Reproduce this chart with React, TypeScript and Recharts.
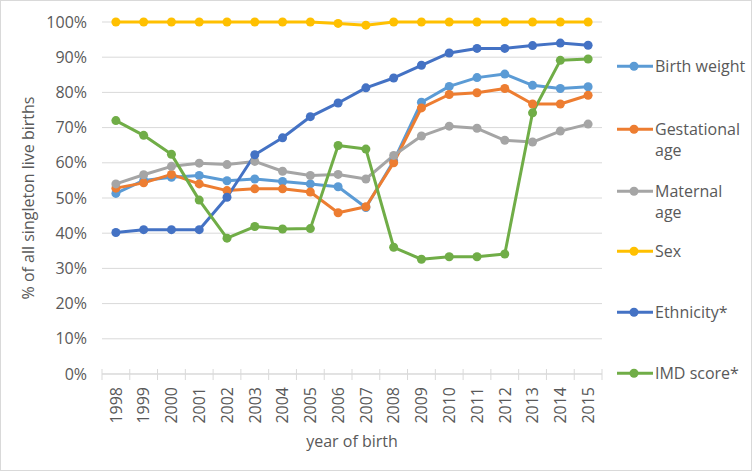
import * as React from 'react'
import { LineChart, Line, XAxis, YAxis, CartesianGrid, Legend } from 'recharts'

const years = ['1998', '1999', '2000', '2001', '2002', '2003', '2004', '2005', '2006', '2007', '2008', '2009', '2010', '2011', '2012', '2013', '2014', '2015']
const birthWeight = [51.3, 55.0, 55.9, 56.4, 54.9, 55.4, 54.7, 54.0, 53.2, 47.3, 60.5, 77.2, 81.7, 84.2, 85.2, 82.0, 81.1, 81.6]
const gestationalAge = [52.8, 54.3, 56.7, 54.0, 52.1, 52.6, 52.6, 51.7, 45.8, 47.5, 60.0, 75.6, 79.4, 79.9, 81.1, 76.7, 76.7, 79.2]
const maternalAge = [54.0, 56.6, 59.0, 59.9, 59.5, 60.4, 57.6, 56.4, 56.7, 55.4, 62.1, 67.6, 70.4, 69.8, 66.4, 65.9, 69.0, 71.0]
const sex = [100, 100, 100, 100, 100, 100, 100, 100, 99.6, 99.1, 100, 100, 100, 100, 100, 100, 100, 100]
const ethnicity = [40.2, 41.0, 41.0, 41.0, 50.2, 62.3, 67.1, 73.1, 77.0, 81.3, 84.1, 87.7, 91.2, 92.5, 92.5, 93.3, 94.0, 93.4]
const imdScore = [72.0, 67.8, 62.4, 49.4, 38.6, 41.9, 41.2, 41.3, 64.9, 63.9, 36.0, 32.6, 33.3, 33.3, 34.1, 74.2, 89.1, 89.5]
const yTicks = [0, 10, 20, 30, 40, 50, 60, 70, 80, 90, 100]

const series = [
  { key: 'birthWeight', name: 'Birth weight', color: '#5B9BD5', values: birthWeight },
  { key: 'gestationalAge', name: 'Gestational age', color: '#ED7D31', values: gestationalAge },
  { key: 'maternalAge', name: 'Maternal age', color: '#A5A5A5', values: maternalAge },
  { key: 'sex', name: 'Sex', color: '#FFC000', values: sex },
  { key: 'ethnicity', name: 'Ethnicity*', color: '#4472C4', values: ethnicity },
  { key: 'imdScore', name: 'IMD score*', color: '#70AD47', values: imdScore },
]

const data = years.map((year, i) => {
  const row: Record<string, string | number> = { year }
  series.forEach((s) => { row[s.key] = s.values[i] })
  return row
})

const FONT = '"Open Sans", sans-serif'
const TEXT = '#595959'
const GRID = '#d9d9d9'
const W = 753
const H = 472
const PLOT_LEFT = 102
const PLOT_RIGHT = 602
const BAND = (PLOT_RIGHT - PLOT_LEFT) / years.length

// legend row centres (first text line), Excel spaces them unevenly
const legendCentres = [66, 129.5, 191.5, 251.5, 312.5, 373.5]

const XTick = (props: any) => {
  const { x, y, payload, index } = props
  const axisY = y - 8
  return (
    <g>
      <line x1={x - BAND / 2} x2={x - BAND / 2} y1={axisY - 5} y2={axisY + 6} stroke={GRID} />
      {index === years.length - 1 && (
        <line x1={x + BAND / 2} x2={x + BAND / 2} y1={axisY - 5} y2={axisY + 6} stroke={GRID} />
      )}
      <text
        x={x}
        y={axisY + 13}
        transform={`rotate(-90, ${x}, ${axisY + 13})`}
        textAnchor="end"
        dy="0.36em"
        fill={TEXT}
        fontSize={16}
        fontFamily={FONT}
      >
        {payload.value}
      </text>
    </g>
  )
}

const renderLegend = () => (
  <div style={{ position: 'relative', width: 153, height: H }}>
    {series.map((s, i) => (
      <div
        key={s.key}
        style={{ position: 'absolute', left: 17, top: legendCentres[i] - 10.25, display: 'flex', alignItems: 'flex-start' }}
      >
        <svg width={38} height={20.5} style={{ flex: 'none' }}>
          <line x1={0} x2={36} y1={10.25} y2={10.25} stroke={s.color} strokeWidth={3} />
          <circle cx={17} cy={10.25} r={4.5} fill={s.color} />
        </svg>
        <span style={{ width: 96, fontFamily: FONT, fontSize: 16, lineHeight: '20.5px', color: TEXT }}>{s.name}</span>
      </div>
    ))}
  </div>
)

export default function App() {
  return (
    <div style={{ position: 'relative', width: W, height: H, background: '#fff' }}>
      <style>{'body{margin:0}'}</style>
      <div
        style={{ position: 'absolute', left: 0, top: 0, width: 752, height: 471, border: `1px solid ${GRID}`, boxSizing: 'border-box' }}
      />
      <div style={{ position: 'absolute', left: 0, top: 0 }}>
        <LineChart width={W} height={H} data={data} margin={{ top: 22, right: W - PLOT_RIGHT, left: 0, bottom: 0 }}>
          <CartesianGrid vertical={false} stroke={GRID} />
          <XAxis
            dataKey="year"
            scale="band"
            interval={0}
            height={98}
            tickLine={false}
            axisLine={{ stroke: GRID }}
            tick={<XTick />}
            label={(p: any) => {
              const vb = p.viewBox
              return (
                <text x={vb.x + vb.width / 2} y={441} textAnchor="middle" dy="0.36em" fill={TEXT} fontSize={16} fontFamily={FONT}>
                  year of birth
                </text>
              )
            }}
          />
          <YAxis
            width={PLOT_LEFT}
            domain={[0, 100]}
            ticks={yTicks}
            tickFormatter={(v: number) => `${v}%`}
            axisLine={false}
            tickLine={false}
            tickMargin={9}
            tick={{ fill: TEXT, fontSize: 16, fontFamily: FONT }}
            label={(p: any) => {
              const vb = p.viewBox
              const cy = vb.y + vb.height / 2
              return (
                <text x={28} y={cy} transform={`rotate(-90, 28, ${cy})`} textAnchor="middle" dy="0.36em" fill={TEXT} fontSize={16} fontFamily={FONT}>
                  % of all singleton live births
                </text>
              )
            }}
          />
          <Legend
            layout="horizontal"
            align="center"
            verticalAlign="middle"
            content={renderLegend}
            wrapperStyle={{ left: 600, top: 0, width: 153, height: H }}
          />
          {series.map((s) => (
            <Line
              key={s.key}
              dataKey={s.key}
              name={s.name}
              stroke={s.color}
              strokeWidth={3}
              strokeLinejoin="round"
              dot={{ r: 4.5, fill: s.color, stroke: s.color, strokeWidth: 0 }}
              activeDot={false}
              isAnimationActive={false}
            />
          ))}
        </LineChart>
      </div>
    </div>
  )
}
